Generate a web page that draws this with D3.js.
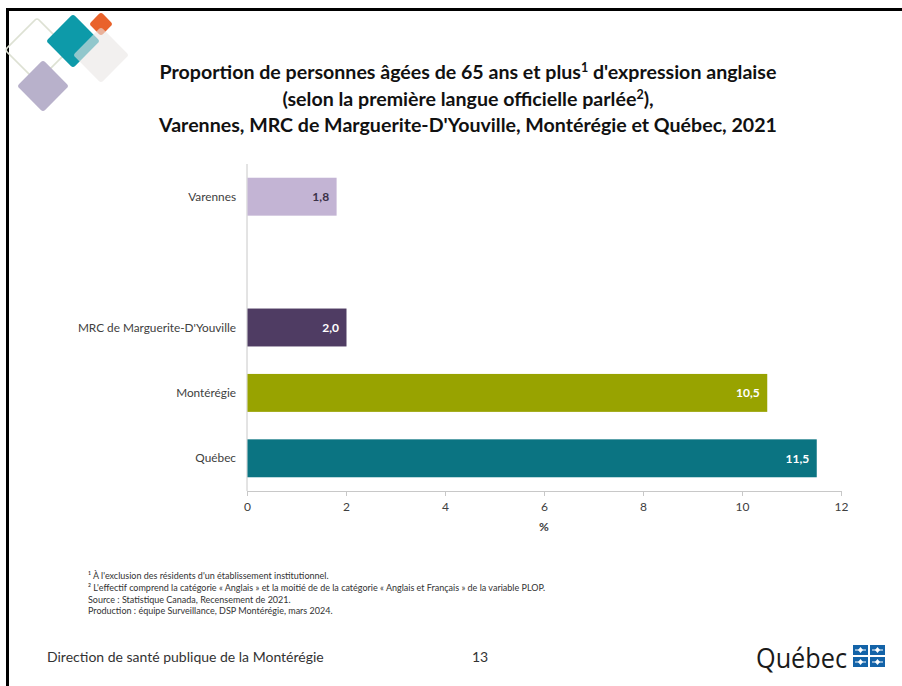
<!DOCTYPE html>
<html>
<head>
<meta charset="utf-8">
<script src="https://cdn.jsdelivr.net/npm/d3@7"></script>
<style>
  body { margin: 0; background: #fff; }
  svg { display: block; font-family: "Lato", "Open Sans", sans-serif; }
</style>
</head>
<body>
<script>
// chart values
var categories = ["Varennes", "", "MRC de Marguerite-D'Youville", "Montérégie", "Québec"];
var values = [1.8, null, 2.0, 10.5, 11.5];
var valueLabels = ["1,8", "", "2,0", "10,5", "11,5"];
var barColors = ["#c3b4d4", "none", "#4f3c63", "#98a300", "#0b7482"];
var labelColors = ["#3b3148", "none", "#ffffff", "#ffffff", "#ffffff"];
var xTicks = [0, 2, 4, 6, 8, 10, 12];

var titleLines = [
  ["Proportion de personnes âgées de 65 ans et plus", "1", " d'expression anglaise"],
  ["(selon la première langue officielle parlée", "2", "),"],
  ["Varennes, MRC de Marguerite-D'Youville, Montérégie et Québec, 2021", "", ""]
];
var notes = [
  "¹ À l'exclusion des résidents d'un établissement institutionnel.",
  "² L'effectif comprend la catégorie « Anglais » et la moitié de de la catégorie « Anglais et Français » de la variable PLOP.",
  "Source : Statistique Canada, Recensement de 2021.",
  "Production : équipe Surveillance, DSP Montérégie, mars 2024."
];

var width = 902, height = 686;
var svg = d3.select("body").append("svg")
    .attr("width", width)
    .attr("height", height);

// slide frame (top and left edges only are visible)
svg.append("rect").attr("x", 6).attr("y", 8).attr("width", width).attr("height", 3).attr("fill", "#000");
svg.append("rect").attr("x", 6).attr("y", 8).attr("width", 3).attr("height", height).attr("fill", "#000");

// decorative diamonds, top left
function diamond(cx, cy, r, fill, stroke, op) {
  svg.append("rect")
    .attr("x", -r / Math.SQRT2).attr("y", -r / Math.SQRT2)
    .attr("width", r * Math.SQRT2).attr("height", r * Math.SQRT2)
    .attr("rx", 3)
    .attr("transform", "translate(" + cx + "," + cy + ") rotate(45)")
    .attr("fill", fill)
    .attr("stroke", stroke || "none")
    .attr("stroke-width", 1.5)
    .attr("opacity", op || 1);
}
diamond(37, 50, 32, "none", "#dde1d3");
diamond(43, 86, 26, "#b8b1cb");
diamond(73, 41, 27, "#0d9aa9");
diamond(101, 24, 12, "#e9622b");
diamond(101, 55, 28, "#e9e6e4", null, 0.6);

// title
var title = svg.append("text")
    .attr("text-anchor", "middle")
    .attr("font-weight", "bold")
    .attr("font-size", 19.6)
    .attr("fill", "#111");
titleLines.forEach(function(l, i) {
  var t = title.append("tspan").attr("x", 468).attr("y", 79 + i * 26.5);
  t.append("tspan").text(l[0]);
  if (l[1]) t.append("tspan").attr("font-size", 12.5).attr("dy", -7).text(l[1]);
  if (l[2]) t.append("tspan").attr("dy", l[1] ? 7 : 0).text(l[2]);
});

// scales
var x = d3.scaleLinear().domain([0, 12]).range([247, 841]);
var y = d3.scaleBand().domain(d3.range(categories.length)).range([164, 491]).paddingInner(0.42).paddingOuter(0.21);

// x axis
var xAxis = svg.append("g")
    .attr("transform", "translate(0,491)")
    .call(d3.axisBottom(x).tickValues(xTicks).tickSize(5).tickSizeOuter(5).tickPadding(6));
xAxis.select(".domain").attr("stroke", "#c8c8c8");
xAxis.selectAll(".tick line").attr("stroke", "#c8c8c8");
xAxis.selectAll("text").attr("font-size", 12).attr("fill", "#404040").attr("font-family", "Lato, sans-serif");

svg.append("text")
    .attr("x", 544).attr("y", 531)
    .attr("text-anchor", "middle")
    .attr("font-size", 12).attr("font-weight", "bold").attr("fill", "#404040")
    .text("%");

// y axis line
svg.append("line")
    .attr("x1", 247).attr("x2", 247).attr("y1", 164).attr("y2", 491)
    .attr("stroke", "#c8c8c8");

var rows = svg.append("g").selectAll("g")
    .data(categories.map(function(c, i) { return i; }))
    .enter().append("g");

rows.filter(function(i) { return values[i] !== null; })
  .append("rect")
    .attr("x", x(0) + 0.5)
    .attr("y", function(i) { return y(i); })
    .attr("width", function(i) { return x(values[i]) - x(0); })
    .attr("height", y.bandwidth())
    .attr("fill", function(i) { return barColors[i]; });

rows.append("text")
    .attr("x", 236)
    .attr("y", function(i) { return y(i) + y.bandwidth() / 2; })
    .attr("dy", "0.35em")
    .attr("text-anchor", "end")
    .attr("font-size", 11.8).attr("fill", "#404040")
    .text(function(i) { return categories[i]; });

rows.filter(function(i) { return values[i] !== null; })
  .append("text")
    .attr("x", function(i) { return x(values[i]) - 7; })
    .attr("y", function(i) { return y(i) + y.bandwidth() / 2; })
    .attr("dy", "0.35em")
    .attr("text-anchor", "end")
    .attr("font-size", 12).attr("font-weight", "bold")
    .attr("fill", function(i) { return labelColors[i]; })
    .text(function(i) { return valueLabels[i]; });

// footnotes
svg.append("g").selectAll("text")
    .data(notes)
    .enter().append("text")
    .attr("x", 88)
    .attr("y", function(d, i) { return 579 + i * 11.8; })
    .attr("font-size", 9).attr("fill", "#333")
    .text(function(d) { return d; });

// footer
svg.append("text")
    .attr("x", 47).attr("y", 662)
    .attr("font-size", 14).attr("fill", "#333")
    .text("Direction de santé publique de la Montérégie");
svg.append("text")
    .attr("x", 472).attr("y", 662)
    .attr("font-size", 14).attr("fill", "#333")
    .text("13");

// Québec logo
svg.append("text")
    .attr("x", 756).attr("y", 668)
    .attr("font-size", 28).attr("fill", "#1a1a1a")
    .attr("font-family", "Open Sans, sans-serif")
    .attr("textLength", 91).attr("lengthAdjust", "spacingAndGlyphs")
    .text("Québec");
var flag = svg.append("g").attr("transform", "translate(853,645)");
[[0, 0], [17, 0], [0, 12], [17, 12]].forEach(function(p) {
  var g = flag.append("g").attr("transform", "translate(" + p[0] + "," + p[1] + ")");
  g.append("rect").attr("width", 15).attr("height", 10).attr("fill", "#1363a8");
  g.append("path")
    .attr("d", "M7.5,2 L10,5 L7.5,8 L5,5 Z")
    .attr("fill", "#fff");
  g.append("rect").attr("x", 2).attr("y", 4.5).attr("width", 11).attr("height", 1).attr("fill", "#fff");
});
</script>
</body>
</html>
